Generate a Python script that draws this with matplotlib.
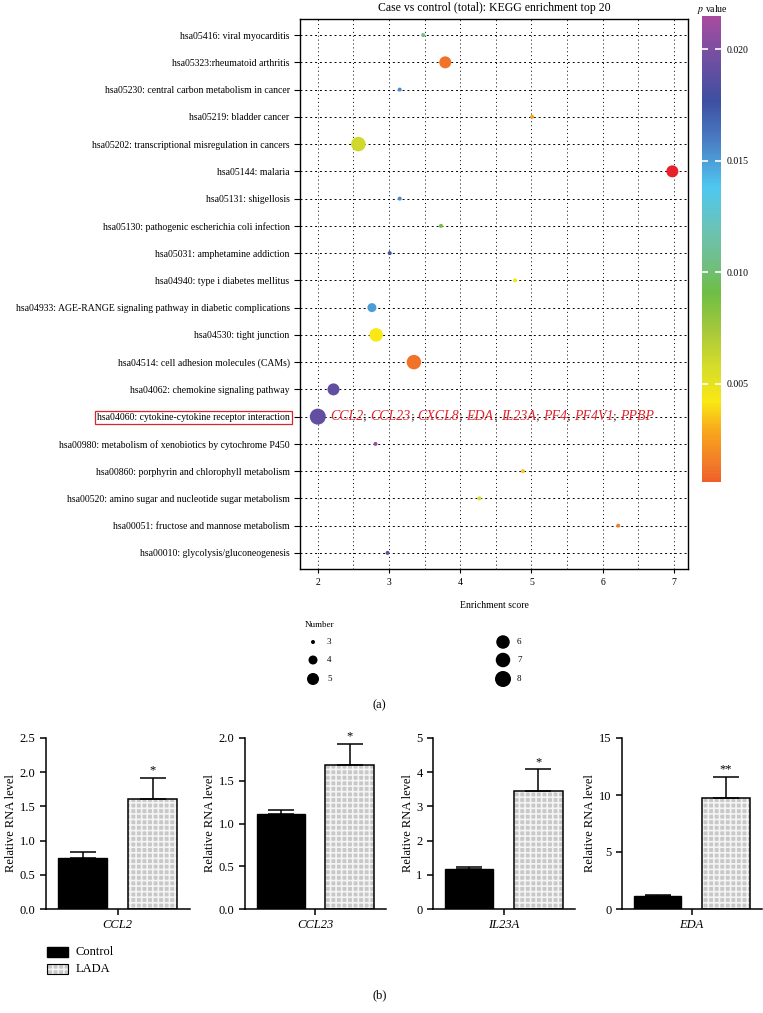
import numpy as np
import matplotlib.pyplot as plt
from matplotlib.colors import LinearSegmentedColormap, Normalize
from matplotlib.cm import ScalarMappable
from matplotlib.ticker import MultipleLocator
from matplotlib.patches import Rectangle

plt.rcParams['font.family'] = ['Liberation Serif', 'DejaVu Serif']
plt.rcParams['mathtext.fontset'] = 'stix'
plt.rcParams['hatch.linewidth'] = 1.2

# KEGG enrichment data (top to bottom)
pathways = [
    "hsa05416: viral myocarditis",
    "hsa05323:rheumatoid arthritis",
    "hsa05230: central carbon metabolism in cancer",
    "hsa05219: bladder cancer",
    "hsa05202: transcriptional misregulation in cancers",
    "hsa05144: malaria",
    "hsa05131: shigellosis",
    "hsa05130: pathogenic escherichia coli infection",
    "hsa05031: amphetamine addiction",
    "hsa04940: type i diabetes mellitus",
    "hsa04933: AGE-RANGE signaling pathway in diabetic complications",
    "hsa04530: tight junction",
    "hsa04514: cell adhesion molecules (CAMs)",
    "hsa04062: chemokine signaling pathway",
    "hsa04060: cytokine-cytokine receptor interaction",
    "hsa00980: metabolism of xenobiotics by cytochrome P450",
    "hsa00860: porphyrin and chlorophyll metabolism",
    "hsa00520: amino sugar and nucleotide sugar metabolism",
    "hsa00051: fructose and mannose metabolism",
    "hsa00010: glycolysis/gluconeogenesis",
]
enrich = [3.48, 3.79, 3.15, 5.01, 2.57, 6.98, 3.15, 3.73, 3.01, 4.77,
          2.76, 2.82, 3.35, 2.22, 2.00, 2.81, 4.88, 4.27, 6.22, 2.98]
pvals = [0.0105, 0.0012, 0.0155, 0.0028, 0.0060, 0.0004, 0.0155, 0.0090, 0.0178, 0.0045,
         0.0150, 0.0042, 0.0012, 0.0190, 0.0190, 0.0213, 0.0035, 0.0058, 0.0015, 0.0190]
counts = [3, 5, 3, 3, 7, 5, 3, 3, 3, 3,
          4, 6, 7, 5, 8, 3, 3, 3, 3, 3]
highlight = "hsa04060: cytokine-cytokine receptor interaction"
genes = ['CCL2', 'CCL23', 'CXCL8', 'EDA', 'IL23A', 'PF4', 'PF4V1', 'PPBP']
legend_counts = [3, 4, 5, 6, 7, 8]

# qPCR data
bar_genes = ['CCL2', 'CCL23', 'IL23A', 'EDA']
control_mean = [0.74, 1.11, 1.18, 1.10]
control_err = [0.10, 0.05, 0.05, 0.12]
lada_mean = [1.61, 1.68, 3.45, 9.70]
lada_err = [0.31, 0.25, 0.63, 1.86]
stars = ['*', '*', '*', '**']
bar_ymax = [2.5, 2.0, 5, 15]
bar_ystep = [0.5, 0.5, 1, 5]

W, H = 763, 1013
fig = plt.figure(figsize=(W / 100, H / 100), dpi=100)


def box(x0, y0, x1, y1):
    return [x0 / W, 1 - y1 / H, (x1 - x0) / W, (y1 - y0) / H]


# colour scale for p value
cvals = [0.0006, 0.0013, 0.0028, 0.0042, 0.0058, 0.0073, 0.0091, 0.0103,
         0.0118, 0.0138, 0.0159, 0.0177, 0.0200, 0.0215]
ccols = ['#EF5F2A', '#F1782A', '#F8A51C', '#F9E814', '#D4DC2A', '#A8C93A', '#6DBE45', '#72BE80',
         '#6CC2B0', '#4FC8F0', '#4A7EC4', '#3E4FA0', '#7B4FA2', '#A84B9F']
norm = Normalize(vmin=cvals[0], vmax=cvals[-1])
cmap = LinearSegmentedColormap.from_list(
    'pv', [(norm(v), c) for v, c in zip(cvals, ccols)])
cmap.set_under('#E8202A')

diam = {3: 4, 4: 9, 5: 12, 6: 13.5, 7: 14.5, 8: 16}


def msize(n):
    return (diam[n] * 0.72) ** 2


# ---- (a) bubble plot
ax = fig.add_axes(box(300, 19, 688, 569))
ypos = np.arange(len(pathways))
ax.scatter(enrich, ypos, s=[msize(n) for n in counts], c=pvals, cmap=cmap, norm=norm,
           edgecolors='none', zorder=3)
ax.set_xlim(1.75, 7.2)
ax.set_ylim(len(pathways) - 0.41, -0.59)
ax.set_yticks(ypos)
ax.set_yticklabels(pathways, fontsize=7)
ax.set_xticks(range(2, 8))
ax.xaxis.set_minor_locator(MultipleLocator(0.5))
ax.tick_params(axis='x', labelsize=7, length=3, width=0.8)
ax.tick_params(axis='x', which='minor', length=0)
ax.tick_params(axis='y', length=4, width=0.8)
ax.grid(True, axis='x', which='both', color='black', linestyle=(0, (1, 3)), linewidth=0.7)
ax.grid(True, axis='y', color='black', linestyle=(0, (2, 3)), linewidth=0.7)
ax.set_axisbelow(True)
for sp in ax.spines.values():
    sp.set_linewidth(1.0)
for lab in ax.get_yticklabels():
    if lab.get_text() == highlight:
        lab.set_bbox(dict(boxstyle='square,pad=0.2', fc='none', ec='#D7262B', lw=0.9))
ax.set_xlabel('Enrichment score', fontsize=7, labelpad=10)
ax.set_title('Case vs control (total): KEGG enrichment top 20', fontsize=8.5, pad=6)

# gene list next to the highlighted bubble
row = pathways.index(highlight)
prev = ax.text(2.17, row, genes[0], color='#E0262F', style='italic', fontsize=10,
               va='center', ha='left')
for g in genes[1:]:
    prev = ax.annotate('; ', xy=(1, 0.5), xycoords=prev, va='center', ha='left',
                       fontsize=9.5, color='#5a1a1a')
    prev = ax.annotate(g, xy=(1, 0.5), xycoords=prev, va='center', ha='left',
                       fontsize=10, color='#E0262F', style='italic')

# colour bar
cax = fig.add_axes(box(702, 16, 721, 482))
cb = fig.colorbar(ScalarMappable(norm=norm, cmap=cmap), cax=cax)
cb.outline.set_visible(False)
cb.set_ticks([0.005, 0.010, 0.015, 0.020])
cb.ax.yaxis.set_major_formatter('{x:.3f}')
cax.tick_params(direction='in', color='white', length=4, width=1.2, labelsize=7, pad=4,
                left=True, right=True)

# overlay for free text and legend (pixel coordinates)
ov = fig.add_axes([0, 0, 1, 1])
ov.set_xlim(0, W)
ov.set_ylim(H, 0)
ov.axis('off')
ov.text(712, 9, r'$\it{p}$ value', ha='center', va='center', fontsize=7)
ov.text(305, 625, 'Number', ha='left', va='center', fontsize=6.5)
for k, n in enumerate(legend_counts):
    cx = 313 if k < 3 else 503
    cy = [642, 660, 679][k % 3]
    ov.scatter([cx], [cy], s=msize(n), color='black', edgecolors='none')
    ov.text(cx + 14, cy, str(n), ha='left', va='center', fontsize=6.5)
ov.text(379, 705, '(a)', ha='center', va='center', fontsize=9)
ov.text(380, 995, '(b)', ha='center', va='center', fontsize=9)

# ---- (b) qPCR bars
lefts = [46, 245, 433, 622]
rights = [190, 386, 575, 762]
for i, g in enumerate(bar_genes):
    bx = fig.add_axes(box(lefts[i], 738, rights[i], 909))
    bx.bar(0, control_mean[i], width=0.7, color='black', edgecolor='black', lw=1,
           yerr=[[0], [control_err[i]]], capsize=9.7,
           error_kw=dict(elinewidth=1.1, capthick=1.1, ecolor='black'))
    bx.bar(1, lada_mean[i], width=0.7, color='#c8c8c8', edgecolor='#f4f4f4', hatch='+++', lw=0)
    bx.bar(1, lada_mean[i], width=0.7, fill=False, edgecolor='black', lw=1.1,
           yerr=[[0], [lada_err[i]]], capsize=9.7,
           error_kw=dict(elinewidth=1.1, capthick=1.1, ecolor='black'))
    bx.annotate(stars[i], xy=(1, lada_mean[i] + lada_err[i]), xytext=(0, 1),
                textcoords='offset points', ha='center', va='bottom', fontsize=9)
    bx.set_xlim(-0.52, 1.53)
    bx.set_ylim(0, bar_ymax[i])
    ticks = np.arange(0, bar_ymax[i] + bar_ystep[i] / 2, bar_ystep[i])
    bx.set_yticks(ticks)
    if bar_ystep[i] < 1:
        bx.set_yticklabels(['%.1f' % t for t in ticks])
    else:
        bx.set_yticklabels(['%d' % t for t in ticks])
    bx.set_xticks([0.5])
    bx.set_xticklabels([g], style='italic')
    bx.tick_params(labelsize=9, length=4, width=1.1)
    bx.spines['top'].set_visible(False)
    bx.spines['right'].set_visible(False)
    bx.spines['left'].set_linewidth(1.1)
    bx.spines['bottom'].set_linewidth(1.1)
    bx.set_ylabel('Relative RNA level', fontsize=9, labelpad=2)

# legend for bars
ov.add_patch(Rectangle((47, 947), 21, 10, color='black'))
ov.add_patch(Rectangle((47, 964), 21, 10, facecolor='#c8c8c8', edgecolor='#f4f4f4', hatch='+++', lw=0))
ov.add_patch(Rectangle((47, 964), 21, 10, fill=False, edgecolor='black', lw=0.8))
ov.text(76, 952, 'Control', ha='left', va='center', fontsize=9)
ov.text(76, 969, 'LADA', ha='left', va='center', fontsize=9)

fig.savefig('out.png', dpi=100)
